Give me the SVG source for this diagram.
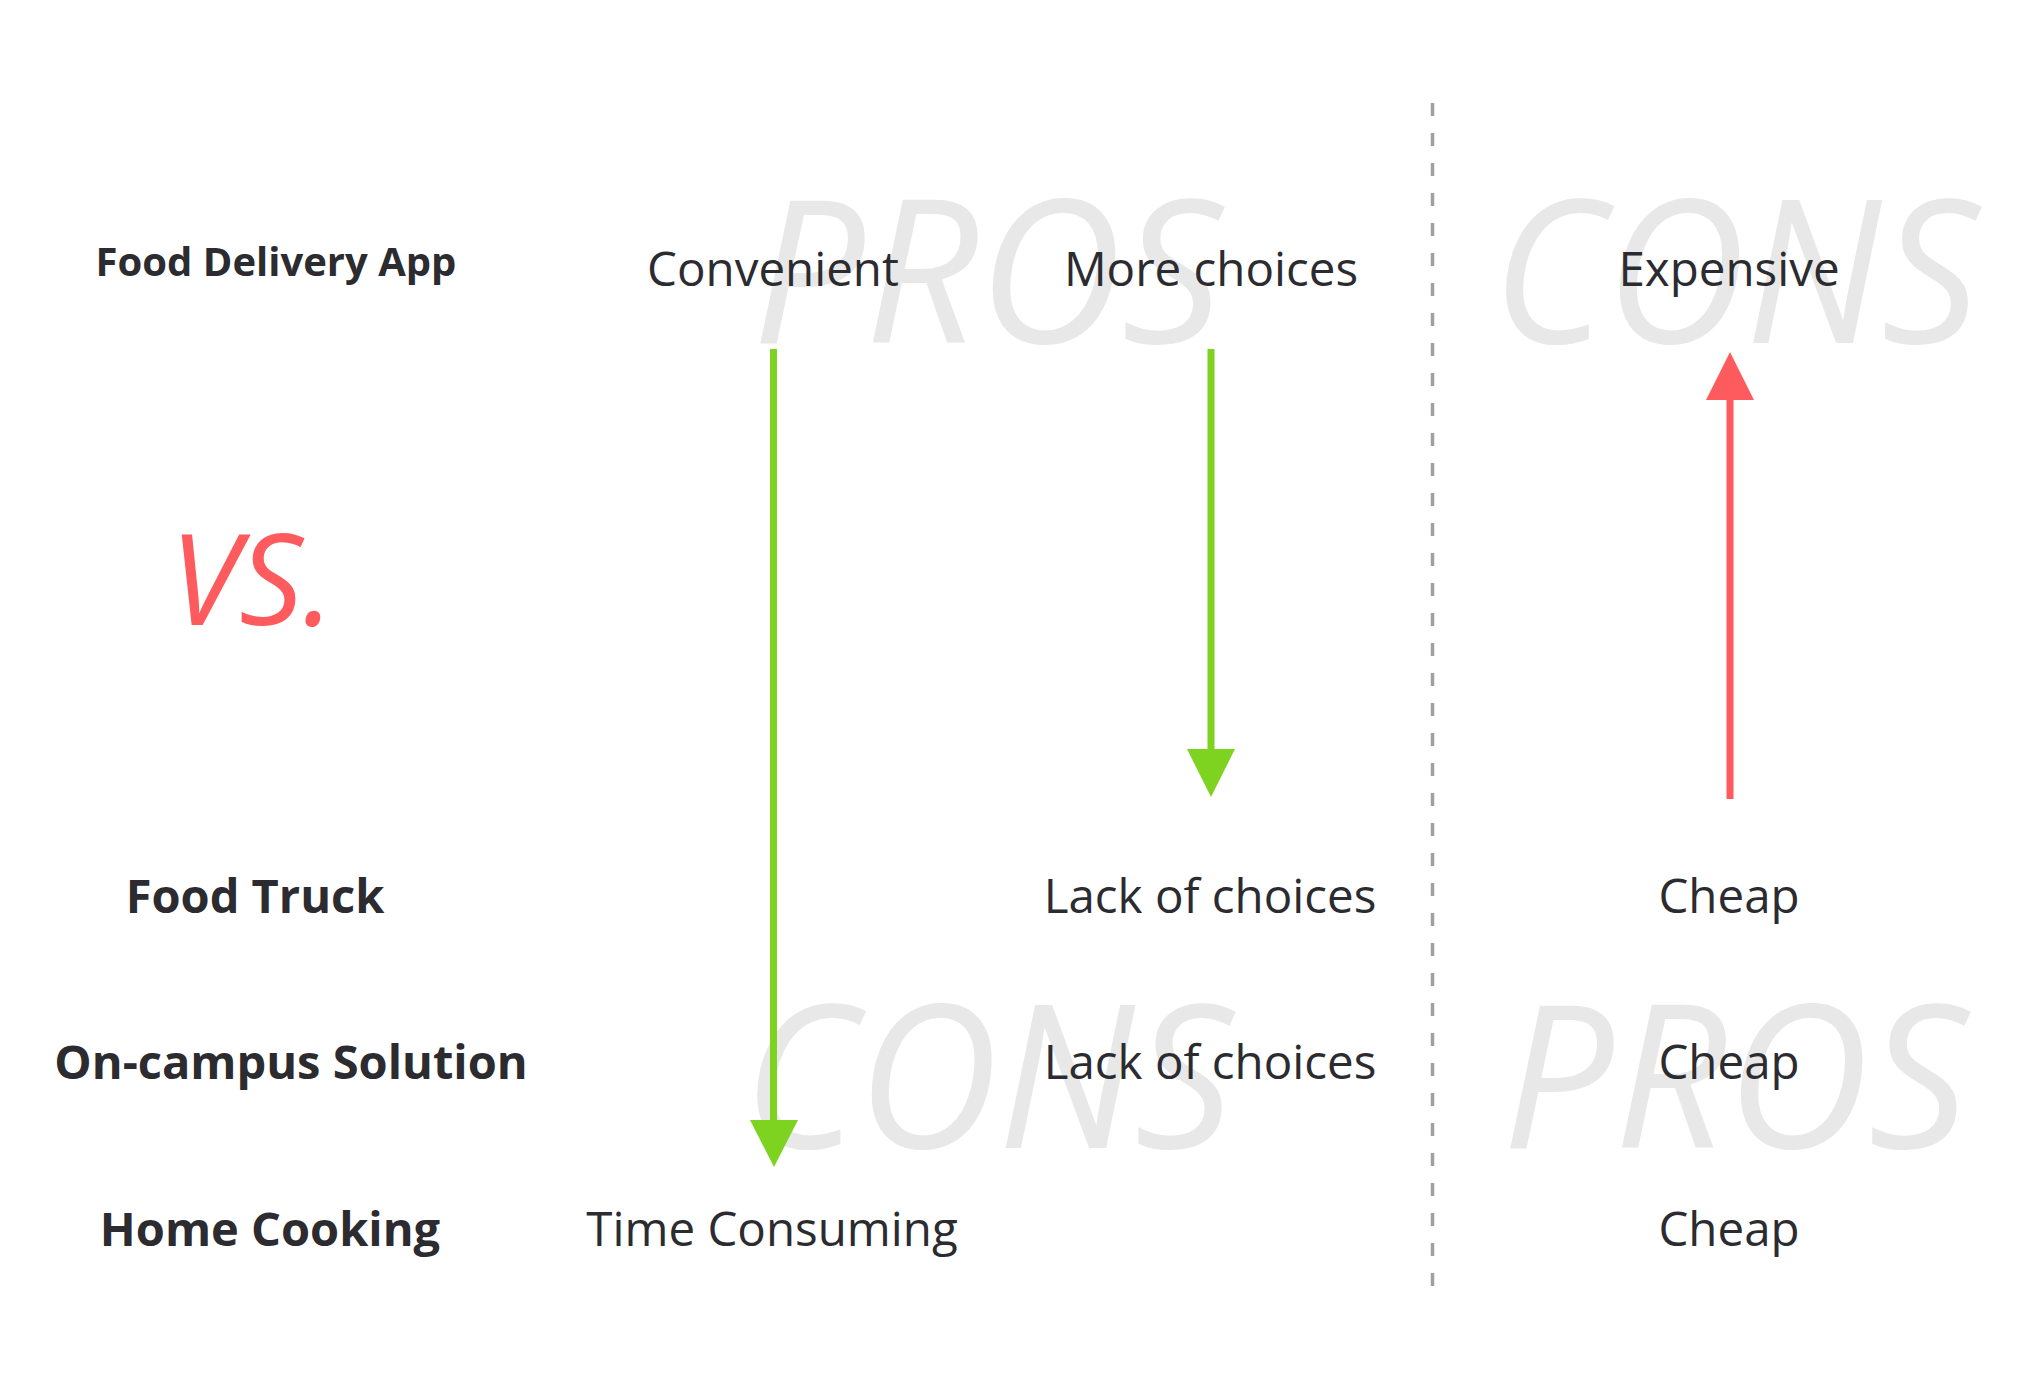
<svg xmlns="http://www.w3.org/2000/svg" width="2028" height="1386" viewBox="0 0 2028 1386">
<style>
.bg{font-family:"Open Sans","Liberation Sans",sans-serif;font-style:italic;font-weight:400;font-size:200px;fill:#e7e8e7}
.lbl{font-family:"Open Sans","Liberation Sans",sans-serif;font-weight:700;fill:#2b2b30;text-anchor:middle}
.cell{font-family:"Open Sans","Liberation Sans",sans-serif;font-weight:400;font-size:47.5px;fill:#2b2b30;text-anchor:middle}
.g{stroke:#7ed321;stroke-width:7;fill:none}
.r{stroke:#fe5b5e;stroke-width:7;fill:none}
</style>
<rect width="2028" height="1386" fill="#ffffff"/>
<g id="watermarks">
<text class="bg" x="752" y="343" textLength="470" lengthAdjust="spacingAndGlyphs">PROS</text>
<text class="bg" x="1492" y="343" textLength="487" lengthAdjust="spacingAndGlyphs">CONS</text>
<text class="bg" x="743" y="1148" textLength="490" lengthAdjust="spacingAndGlyphs">CONS</text>
<text class="bg" x="1502" y="1148" textLength="466" lengthAdjust="spacingAndGlyphs">PROS</text>
</g>
<g id="divider">
<line x1="1432.5" y1="103" x2="1432.5" y2="1286" stroke="#a0a0a0" stroke-width="3.5" stroke-dasharray="13 17"/>
</g>
<g id="connectors">
<line class="g" x1="773.5" y1="349" x2="773.5" y2="1122"/>
<polygon points="750,1120 798,1120 774,1167" fill="#7ed321"/>
<line class="g" x1="1211" y1="349" x2="1211" y2="751"/>
<polygon points="1187,749 1235,749 1211,797" fill="#7ed321"/>
<line class="r" x1="1730" y1="799" x2="1730" y2="398"/>
<polygon points="1706,400 1754,400 1730,352" fill="#fe5b5e"/>
</g>
<g id="vs">
<text x="170" y="625" font-family="'Open Sans','Liberation Sans',sans-serif" font-style="italic" font-size="126" fill="#fe5b5e">VS.</text>
</g>
<g id="row-food-delivery-app">
<text class="lbl" x="276" y="276" font-size="40">Food Delivery App</text>
<text class="cell" x="773" y="286">Convenient</text>
<text class="cell" x="1211" y="286">More choices</text>
<text class="cell" x="1729" y="286">Expensive</text>
</g>
<g id="row-food-truck">
<text class="lbl" x="255" y="913" font-size="47">Food Truck</text>
<text class="cell" x="1210" y="913">Lack of choices</text>
<text class="cell" x="1729" y="913">Cheap</text>
</g>
<g id="row-on-campus">
<text class="lbl" x="291" y="1079" font-size="47">On-campus Solution</text>
<text class="cell" x="1210" y="1079">Lack of choices</text>
<text class="cell" x="1729" y="1079">Cheap</text>
</g>
<g id="row-home-cooking">
<text class="lbl" x="270" y="1246" font-size="47">Home Cooking</text>
<text class="cell" x="772" y="1246">Time Consuming</text>
<text class="cell" x="1729" y="1246">Cheap</text>
</g>
</svg>
